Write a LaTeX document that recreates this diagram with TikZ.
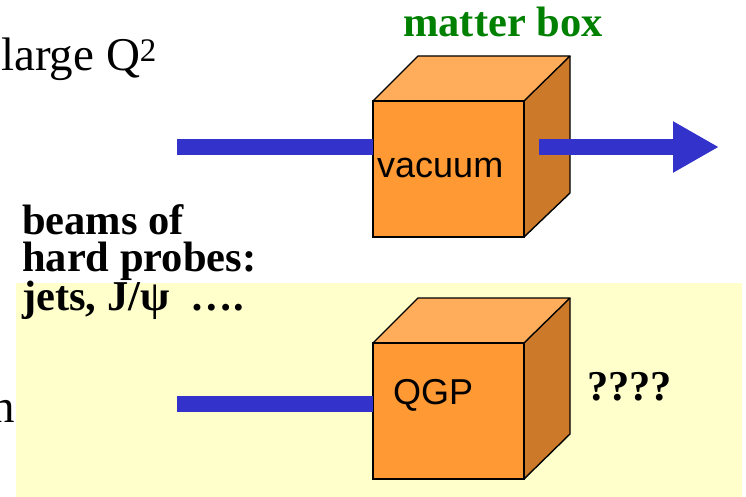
\documentclass[tikz,border=0pt]{standalone}
\usepackage{fontspec}
\setmainfont{Liberation Serif}
\newfontfamily\arialfont{Liberation Sans}
\usetikzlibrary{arrows.meta}

\definecolor{beamblue}{RGB}{51,51,204}
\definecolor{boxfront}{RGB}{255,153,51}
\definecolor{boxtop}{RGB}{255,173,91}
\definecolor{boxside}{RGB}{204,122,41}
\definecolor{panelyellow}{RGB}{255,255,204}
\definecolor{titlegreen}{RGB}{0,128,0}

\tikzset{
  serifbig/.style={inner sep=0pt, font=\fontsize{47}{47}\selectfont},
  seriflabel/.style={inner sep=0pt, font=\fontsize{42.5}{37}\selectfont\bfseries},
  boxlabel/.style={inner sep=0pt, font=\arialfont\fontsize{36}{36}\selectfont},
  cubefront/.style={draw=black, line width=1.4pt, fill=boxfront,
    minimum width=151pt, minimum height=136pt, inner sep=0pt, outer sep=0pt},
  cubeface/.style={draw=black, line width=1.4pt, line join=round},
  beam/.style={draw=beamblue, line width=15.5pt},
}

\begin{document}
\begin{tikzpicture}[x=1pt,y=-1pt]
  \useasboundingbox (0,0) rectangle (746,497);

  % shaded lower panel
  \fill[panelyellow] (16,283) rectangle (742,497);

  % upper cube (vacuum)
  \node[cubefront, anchor=north west] (vac) at (373,101) {};
  \fill[boxtop] (vac.north west) -- ++(45,-45) -- ++(152,0) -- (vac.north east) -- cycle;
  \fill[boxside] (vac.north east) -- ++(46,-45) -- ++(0,137) -- (vac.south east) -- cycle;
  \draw[cubeface] (vac.north west) -- ++(45,-45) -- ++(152,0) -- (vac.north east);
  \draw[cubeface] (vac.north east) ++(46,-45) -- ++(0,137) -- (vac.south east);
  \draw[cubeface] (vac.north west) rectangle (vac.south east);

  % lower cube (QGP)
  \node[cubefront, anchor=north west] (qgp) at (373,343) {};
  \fill[boxtop] (qgp.north west) -- ++(45,-45) -- ++(152,0) -- (qgp.north east) -- cycle;
  \fill[boxside] (qgp.north east) -- ++(46,-45) -- ++(0,136) -- (qgp.south east) -- cycle;
  \draw[cubeface] (qgp.north west) -- ++(45,-45) -- ++(152,0) -- (qgp.north east);
  \draw[cubeface] (qgp.north east) ++(46,-45) -- ++(0,136) -- (qgp.south east);
  \draw[cubeface] (qgp.north west) rectangle (qgp.south east);

  % beams
  \coordinate (srcA) at (177,147);
  \coordinate (srcB) at (177,404);
  \coordinate (exitA) at (539,147);
  \coordinate (sinkA) at (719,147);
  \draw[beam] (srcA) -- (vac.west |- srcA);
  \draw[beam] (srcB) -- (qgp.west |- srcB);
  \draw[beam, -{Triangle[length=46pt, width=48pt]}] (exitA) -- (sinkA);

  % labels
  \node[boxlabel, anchor=base west] (vaclbl) at (377,178) {vacuum};
  \node[boxlabel, anchor=base west] (qgplbl) at (393,404) {QGP};
  \node[seriflabel, anchor=base west, text=titlegreen] (title) at (403,37) {matter box};
  \node[seriflabel, anchor=base west] (unk) at (587,400) {????};
  \node[serifbig, anchor=base west] (q2) at (1,71) {large Q\textsuperscript{2}};
  \node[serifbig, anchor=base east] (cut) at (15,422) {n};
  \node[seriflabel, align=left, anchor=north west] (probes) at (22,204)
    {beams of\\hard probes:\\jets, J/ψ\ \ ….};
\end{tikzpicture}
\end{document}
